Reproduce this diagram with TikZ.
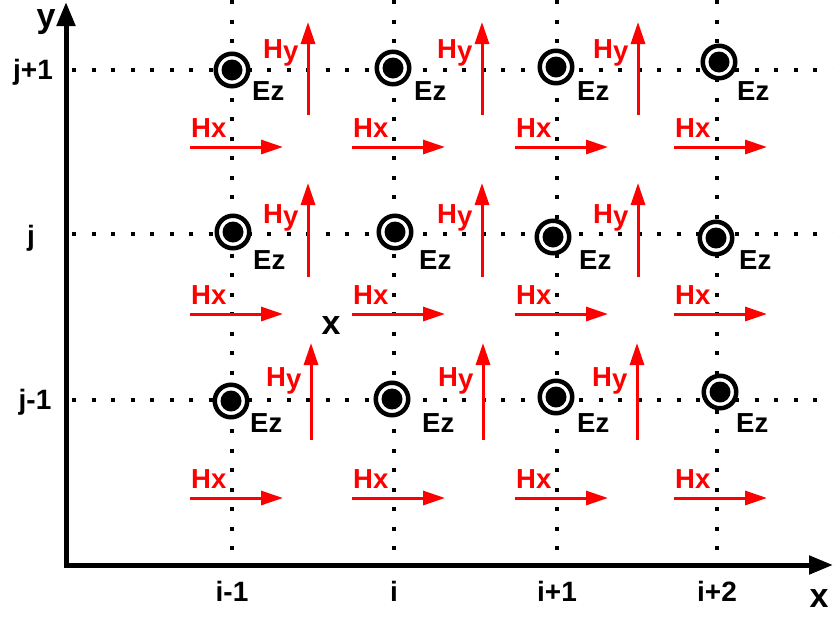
\documentclass[tikz,border=0pt]{standalone}
\usepackage{fontspec}
\setmainfont{Liberation Sans}
\usetikzlibrary{arrows.meta}
\definecolor{hred}{RGB}{255,0,0}
\begin{document}
\begin{tikzpicture}[x=1pt,y=-1pt,
  gridline/.style={line width=4.3pt,dash pattern=on 4.3pt off 15.2pt},
  axisline/.style={line width=5pt,-{Triangle[length=24pt,width=18pt]}},
  harrow/.style={hred,line width=3pt,-{Triangle[length=22pt,width=14pt]}},
  ezc/.style={circle,draw,fill=white,line width=4.5pt,minimum size=32.5pt,inner sep=0pt,
    path picture={\fill[black] (path picture bounding box.center) circle (10.5pt);}},
  fieldlab/.style={anchor=base west,inner sep=0pt,font=\fontsize{27.5}{27.5}\selectfont\bfseries},
  axlab/.style={inner sep=0pt,font=\fontsize{28}{28}\selectfont\bfseries},
  biglab/.style={inner sep=0pt,font=\fontsize{34}{34}\selectfont\bfseries}
]
\useasboundingbox (0,0) rectangle (833,619);
% grid
\foreach \Y in {70,234,400} \draw[gridline] (72,\Y) -- (833,\Y);
\foreach \X in {232,394,557,717} \draw[gridline] (\X,0) -- (\X,565);
% axes
\coordinate (O) at (66,567);
\coordinate (ytip) at (66,2);
\coordinate (xo) at (64,565);
\coordinate (xtip) at (833,565);
\draw[axisline] (O) -- (ytip);
\draw[axisline] (xo) -- (xtip);
% axis labels
\node[biglab] (ylab) at (46,22) {y};
\node[biglab] (xlab) at (819,599) {x};
\node[biglab] (xmid) at (331,326) {x};
\node[axlab] (j1) at (33,72) {j+1};
\node[axlab] (j0) at (31,238) {j};
\node[axlab] (jm) at (35,402) {j-1};
\node[axlab] (im) at (232,591) {i-1};
\node[axlab] (i0) at (394,591) {i};
\node[axlab] (i1) at (557,591) {i+1};
\node[axlab] (i2) at (717,591) {i+2};
% Ez circles and labels
\foreach \n/\cx/\cy/\lx/\ly in {
  a1/232/70/252/100, a2/393/68/414/100, a3/556/67/577/100, a4/719/62/737/100,
  b1/233/232/253/269, b2/395/232/419/269, b3/553/237/579/269, b4/716/238/739/269,
  c1/231/401/250/432, c2/392/399/422/432, c3/556/397/577/432, c4/720/392/736/432}{
  \node[ezc] (e\n) at (\cx,\cy) {};
  \node[fieldlab] (le\n) at (\lx,\ly) {Ez};
}
% Hy arrows and labels
\foreach \n/\ax/\top/\bot/\by in {
  a1/308/22/115/58, a2/482/22/115/58, a3/638/22/115/58,
  b1/308/183/277/223, b2/482/183/277/223, b3/638/183/277/223,
  c1/311/343/440/386, c2/483/343/440/386, c3/637/343/440/386}{
  \coordinate (hys\n) at (\ax,\bot);
  \coordinate (hye\n) at (\ax,\top);
  \draw[harrow] (hys\n) -- (hye\n);
  \node[fieldlab,text=hred] (lhy\n) at (\ax-45,\by) {H\raisebox{-2pt}{y}};
}
% Hx arrows and labels
\foreach \n/\ay in {a/147,b/314,c/498}{
  \foreach \k/\xs/\xe in {1/190/283,2/352/445,3/515/608,4/674/767}{
    \coordinate (hxs\n\k) at (\xs,\ay);
    \coordinate (hxe\n\k) at (\xe,\ay);
    \draw[harrow] (hxs\n\k) -- (hxe\n\k);
    \node[fieldlab,text=hred] (lhx\n\k) at (\xs+1,\ay-10) {Hx};
  }
}
\end{tikzpicture}
\end{document}
